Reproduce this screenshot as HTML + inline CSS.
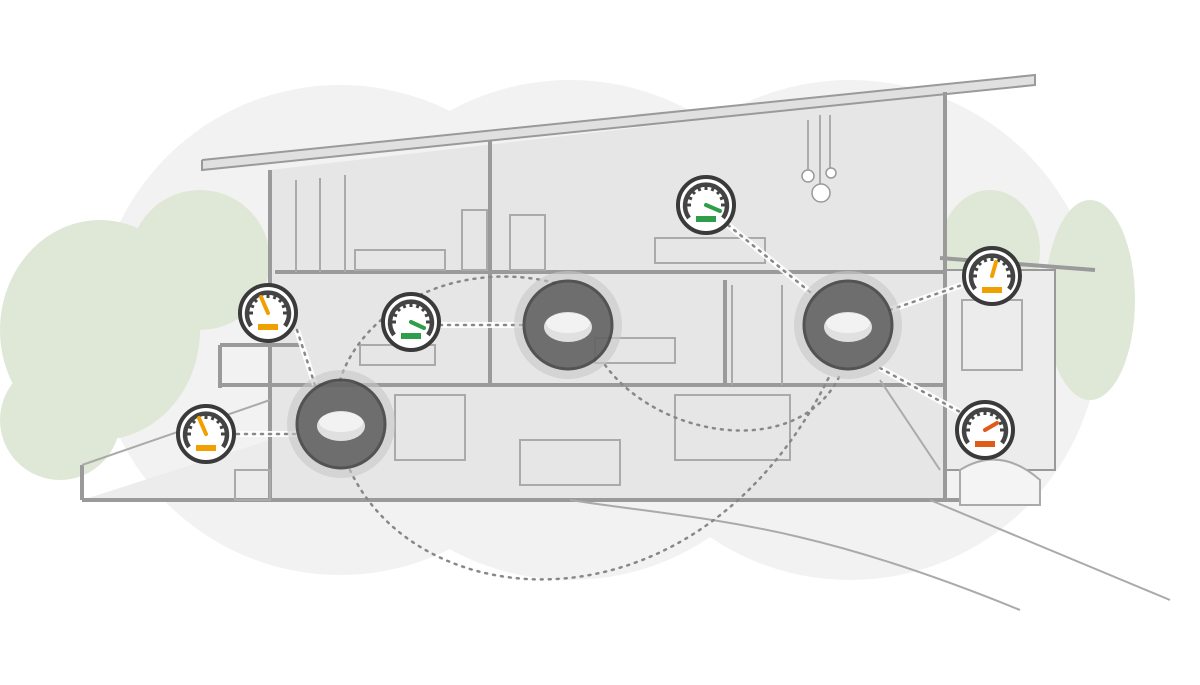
<!DOCTYPE html>
<html><head><meta charset="utf-8"><style>html,body{margin:0;padding:0;background:#fff}svg{display:block}</style></head><body>
<svg width="1200" height="685" viewBox="0 0 1200 685" xmlns="http://www.w3.org/2000/svg">
<defs>
<g id="gauge">
<circle r="28" fill="#fff" stroke="#3a3a3a" stroke-width="4"/>
<path d="M-17,13 A21,21 0 1 1 17,13" fill="none" stroke="#444" stroke-width="4.5"/>
<g stroke="#444" stroke-width="3">
<line x1="-21" y1="0" x2="-15" y2="0"/><line x1="21" y1="0" x2="15" y2="0"/>
<line x1="0" y1="-21" x2="0" y2="-15"/><line x1="-15" y1="-15" x2="-11" y2="-11"/>
<line x1="15" y1="-15" x2="11" y2="-11"/><line x1="-19" y1="-8" x2="-14" y2="-6"/>
<line x1="19" y1="-8" x2="14" y2="-6"/><line x1="-8" y1="-19" x2="-6" y2="-14"/><line x1="8" y1="-19" x2="6" y2="-14"/>
</g>
</g>
<g id="router">
<circle r="54" fill="#c8c8c8" opacity="0.6"/>
<circle r="44" fill="#555" opacity="0.8" stroke="#333" stroke-width="3"/>
<ellipse cx="0" cy="2" rx="24" ry="15" fill="#e0e0e0"/>
<ellipse cx="0" cy="-2" rx="22" ry="10" fill="#f2f2f2"/>
</g>
</defs>
<rect width="1200" height="685" fill="#fff"/>
<g fill="#f2f2f2">
<circle cx="340" cy="330" r="245"/><circle cx="570" cy="330" r="250"/><circle cx="850" cy="330" r="250"/>
</g>
<g fill="#dfe8d6">
<ellipse cx="100" cy="330" rx="100" ry="110"/><ellipse cx="200" cy="260" rx="70" ry="70"/><ellipse cx="60" cy="420" rx="60" ry="60"/>
<ellipse cx="1090" cy="300" rx="45" ry="100"/><ellipse cx="990" cy="250" rx="50" ry="60"/>
</g>
<polygon points="270,170 945,92 945,500 270,500" fill="#e6e6e6"/>
<polygon points="82,500 270,440 270,500" fill="#ececec"/>
<rect x="945" y="270" width="110" height="200" fill="#ececec" stroke="#999" stroke-width="2"/>
<g stroke="#9a9a9a" fill="none" stroke-width="4">
<polyline points="202,160 1035,75 1035,85 202,170 202,160" fill="#e0e0e0" stroke-width="2"/>
<line x1="270" y1="170" x2="270" y2="500"/><line x1="490" y1="140" x2="490" y2="385"/>
<line x1="945" y1="92" x2="945" y2="500"/><line x1="725" y1="280" x2="725" y2="385"/>
<line x1="275" y1="272" x2="945" y2="272"/><line x1="220" y1="385" x2="945" y2="385"/>
<line x1="82" y1="500" x2="965" y2="500"/><line x1="82" y1="465" x2="82" y2="500"/>
<line x1="220" y1="345" x2="220" y2="388"/><line x1="220" y1="345" x2="300" y2="345"/>
<line x1="940" y1="258" x2="1095" y2="270"/>
</g>
<g stroke="#aaa" fill="none" stroke-width="2">
<line x1="82" y1="465" x2="270" y2="400"/><line x1="296" y1="180" x2="296" y2="272"/><line x1="320" y1="178" x2="320" y2="272"/><line x1="345" y1="175" x2="345" y2="272"/>
<line x1="732" y1="285" x2="732" y2="385"/><line x1="782" y1="285" x2="782" y2="385"/>
<rect x="520" y="440" width="100" height="45"/><rect x="395" y="395" width="70" height="65"/>
<rect x="675" y="395" width="115" height="65"/><rect x="595" y="338" width="80" height="25"/>
<rect x="655" y="238" width="110" height="25"/><rect x="355" y="250" width="90" height="20"/>
<rect x="360" y="345" width="75" height="20"/><rect x="462" y="210" width="25" height="60"/><rect x="510" y="215" width="35" height="55"/>
<rect x="962" y="300" width="60" height="70"/><rect x="235" y="470" width="35" height="30"/>
<line x1="880" y1="380" x2="940" y2="470"/>
<path d="M570,500 C700,520 800,520 1020,610"/><path d="M930,500 L1170,600"/>
<path d="M960,470 Q1000,445 1040,480 L1040,505 L960,505 Z" fill="#f4f4f4"/>
</g>
<g stroke="#999" stroke-width="1.5" fill="#fff">
<line x1="808" y1="120" x2="808" y2="170"/><line x1="820" y1="115" x2="820" y2="185"/><line x1="830" y1="115" x2="830" y2="168"/>
<circle cx="808" cy="176" r="6"/><circle cx="821" cy="193" r="9"/><circle cx="831" cy="173" r="5"/>
</g>
<g fill="none" stroke="#fff" stroke-width="6" opacity="0.9">
<path d="M297,330 L315,385"/><path d="M237,434 L300,434"/><path d="M440,325 L526,325"/>
<path d="M728,225 L810,292"/><path d="M890,310 L962,285"/><path d="M880,368 L960,412"/>
</g>
<g fill="none" stroke="#888" stroke-width="2.5" stroke-dasharray="2 6" stroke-linecap="round">
<path d="M297,330 L315,385"/><path d="M237,434 L300,434"/><path d="M440,325 L526,325"/>
<path d="M728,225 L810,292"/><path d="M890,310 L962,285"/><path d="M880,368 L960,412"/>
<path d="M340,380 A170,140 0 0 1 555,283"/>
<path d="M350,470 C420,620 700,640 830,375"/>
<path d="M605,365 C660,440 800,460 840,375"/>
</g>
<use href="#router" x="341" y="424"/>
<use href="#router" x="568" y="325"/>
<use href="#router" x="848" y="325"/>
<use href="#gauge" x="268" y="313"/>
<line x1="268" y1="313" x2="261" y2="297" stroke="#f0a000" stroke-width="4" stroke-linecap="round"/><rect x="258" y="324" width="20" height="6" fill="#f0a000"/>
<use href="#gauge" x="206" y="434"/>
<line x1="206" y1="434" x2="199" y2="418" stroke="#f0a000" stroke-width="4" stroke-linecap="round"/><rect x="196" y="445" width="20" height="6" fill="#f0a000"/>
<use href="#gauge" x="411" y="322"/>
<line x1="411" y1="322" x2="424" y2="328" stroke="#2e9e4a" stroke-width="4" stroke-linecap="round"/><rect x="401" y="333" width="20" height="6" fill="#2e9e4a"/>
<use href="#gauge" x="706" y="205"/>
<line x1="706" y1="205" x2="720" y2="211" stroke="#2e9e4a" stroke-width="4" stroke-linecap="round"/><rect x="696" y="216" width="20" height="6" fill="#2e9e4a"/>
<use href="#gauge" x="992" y="276"/>
<line x1="992" y1="276" x2="996" y2="262" stroke="#f0a000" stroke-width="4" stroke-linecap="round"/><rect x="982" y="287" width="20" height="6" fill="#f0a000"/>
<use href="#gauge" x="985" y="430"/>
<line x1="985" y1="430" x2="997" y2="423" stroke="#e05a1a" stroke-width="4" stroke-linecap="round"/><rect x="975" y="441" width="20" height="6" fill="#e05a1a"/>
</svg>
</body></html>
